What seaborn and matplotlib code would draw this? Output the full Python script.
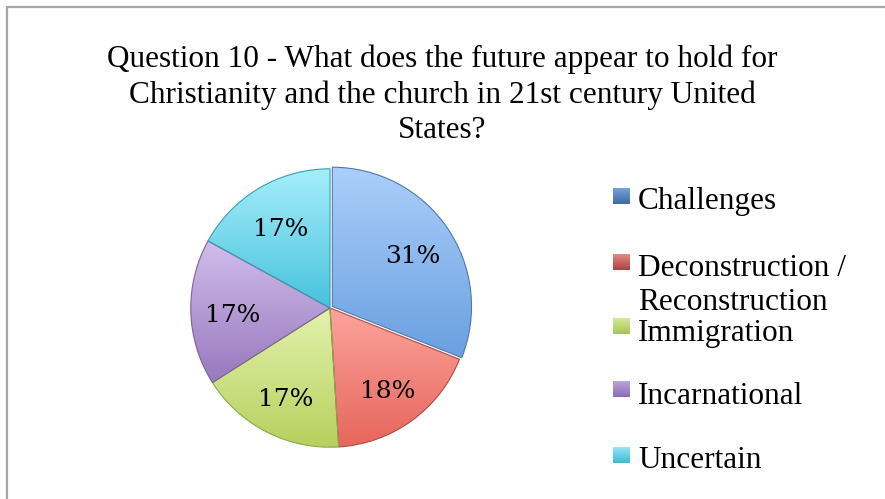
import numpy as np
import matplotlib
matplotlib.use("Agg")
import matplotlib.pyplot as plt
from matplotlib.lines import Line2D
import seaborn as sns

# Survey responses (percent of answers)
categories = ["Challenges", "Deconstruction / Reconstruction", "Immigration",
              "Incarnational", "Uncertain"]
shares = [31, 18, 17, 17, 17]
legend_labels = ["Challenges", "Deconstruction /\nReconstruction", "Immigration",
                 "Incarnational", "Uncertain"]
title = ("Question 10 - What does the future appear to hold for\n"
         "Christianity and the church in 21st century United\nStates?")

# light (top) and deep (bottom) shade of each slice
top_colors = ["#abcffa", "#fca39c", "#e3f2ae", "#d0bdec", "#a6eefb"]
bottom_colors = ["#6a9fe0", "#e7665c", "#b6d05c", "#9878bd", "#48c2dc"]
edge_colors = ["#4f79a8", "#a84c47", "#8fa64a", "#7a6398", "#3c9db3"]
marker_top = ["#7aa6dc", "#e48a85", "#d2ea98", "#c0a8e0", "#9ae8f8"]
marker_bottom = ["#3d6aa0", "#a94440", "#a8c458", "#8a6cb2", "#40b8d4"]

sns.set_style("white")
plt.rcParams["font.family"] = ["Liberation Serif", "DejaVu Serif"]

W, H = 885, 499
fig = plt.figure(figsize=(W / 100, H / 100), dpi=100)
fig.patch.set_facecolor("white")

# chart frame (left and top edges visible)
fig.add_artist(Line2D([7 / W, 7 / W], [0, 1 - 7 / H], transform=fig.transFigure,
                      color="#a6a6a6", lw=1.6))
fig.add_artist(Line2D([7 / W, 1], [1 - 7 / H, 1 - 7 / H], transform=fig.transFigure,
                      color="#a6a6a6", lw=1.6))

fig.text(442 / W, 1 - 95 / H, title, ha="center", va="center", fontsize=22.5,
         linespacing=1.27, color="black")

# pie axes
cx, cy, r = 330, 308, 142
ax = fig.add_axes([(cx - r) / W, (H - cy - r) / H, 2 * r / W, 2 * r / H])
explode = [0.02, 0, 0, 0, 0]
wedges, texts, autotexts = ax.pie(
    shares, startangle=90, counterclock=False, explode=explode,
    colors=top_colors, autopct="%.0f%%", pctdistance=0.7,
    wedgeprops=dict(linewidth=0.8),
    textprops=dict(family=["DejaVu Serif"], fontsize=18, color="black"))
ax.set_aspect("equal")
ax.axis("off")

grad = np.linspace(0, 1, 256).reshape(-1, 1)
for w, c0, c1, ec in zip(wedges, top_colors, bottom_colors, edge_colors):
    w.set_edgecolor(ec)
    cmap = sns.blend_palette([c0, c1], as_cmap=True)
    # use each slice's own vertical extent for the shading
    verts = w.get_path().vertices
    ymin, ymax = verts[:, 1].min(), verts[:, 1].max()
    img = ax.imshow(grad, cmap=cmap, extent=(-1.1, 1.1, ymin, ymax), origin="upper",
                    aspect="auto", zorder=1.5)
    img.set_clip_path(w)
    w.set_zorder(2)
    w.set_facecolor("none")

# percentage labels sit slightly below the geometric centre line
for t in autotexts:
    x, y = t.get_position()
    t.set_position((x, y - 5 / r))
    t.set_zorder(10)

ax.set_xlim(-1.02, 1.02)
ax.set_ylim(-1.02, 1.02)

# legend entries
marker_y = [196, 262, 326, 389, 455]
text_y = [201, 268, 333, 396, 461]
for lab, c0, c1, my, ty in zip(legend_labels, marker_top, marker_bottom,
                               marker_y, text_y):
    lax = fig.add_axes([613 / W, 1 - (my + 8) / H, 17 / W, 16 / H])
    lax.imshow(grad, cmap=sns.blend_palette([c0, c1], as_cmap=True),
               aspect="auto", extent=(0, 1, 0, 1))
    lax.axis("off")
    if "\n" in lab:
        first, second = lab.split("\n")
        fig.text(638 / W, 1 - ty / H, first, ha="left", va="center",
                 fontsize=22.5, color="black")
        fig.text(638 / W, 1 - (ty + 34) / H, second, ha="left", va="center",
                 fontsize=22.5, color="black")
    else:
        fig.text(638 / W, 1 - ty / H, lab, ha="left", va="center",
                 fontsize=22.5, color="black")

fig.savefig("out.png", dpi=100, facecolor="white")
